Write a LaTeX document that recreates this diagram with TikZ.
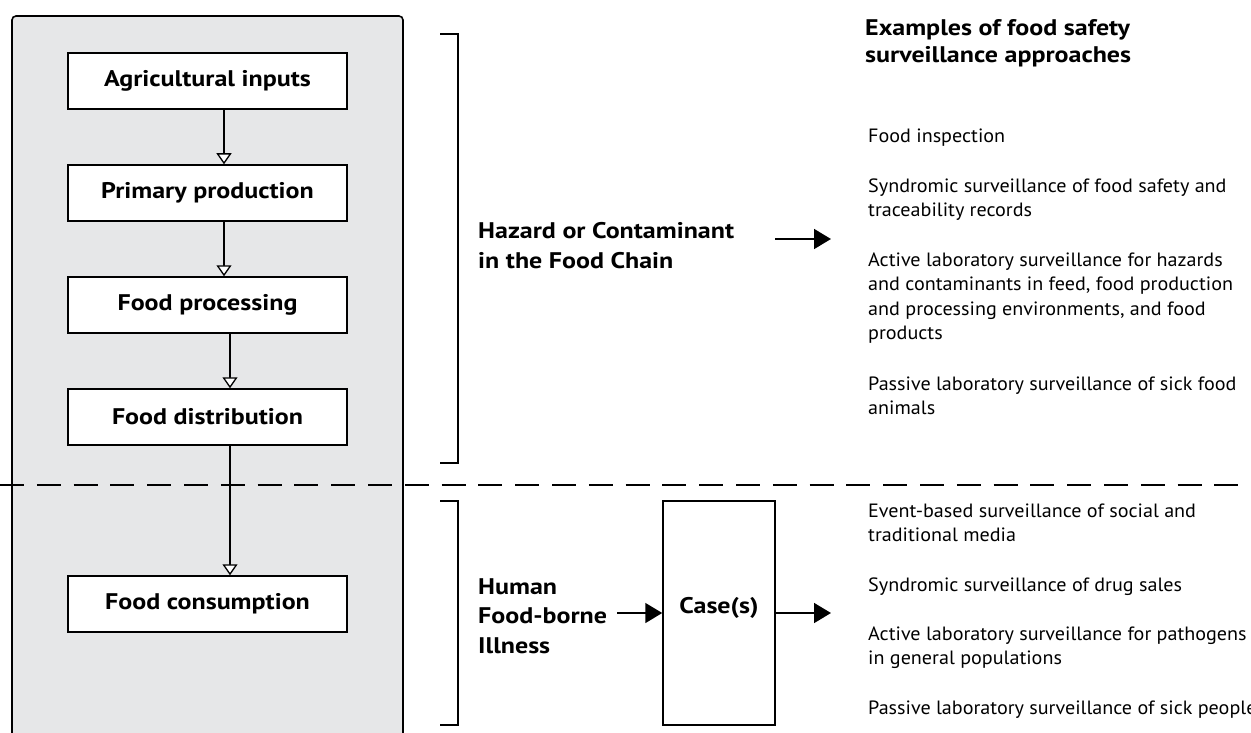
\documentclass[tikz,border=0pt]{standalone}
\usepackage{fontspec}
\setmainfont{PT Sans}[FakeStretch=1.045]
\newfontfamily\heavyface{PT Sans Bold}[FakeStretch=1.15]
\usetikzlibrary{arrows.meta}
\definecolor{panelgray}{HTML}{E6E7E8}
\begin{document}
\begin{tikzpicture}[x=1pt,y=-1pt,
  stagebox/.style={draw, fill=white, line width=1.5pt, minimum width=279pt,
    minimum height=56pt, inner sep=0pt, font=\heavyface\fontsize{22.6}{27}\selectfont},
  flow/.style={line width=1.4pt, -{Triangle[width=15pt, length=11pt, fill=white, line width=1.3pt]}},
  solidarrow/.style={line width=1.6pt, -{Triangle[width=20pt, length=17pt]}},
  bracket/.style={line width=1.5pt},
  separator/.style={line width=2pt, dash pattern=on 24pt off 12.8pt},
  % multi-line texts are anchored at the baseline of their last line
  heading/.style={anchor=base west, align=left, inner sep=0pt,
    font=\heavyface\fontsize{22.6}{27}\selectfont},
  midlabel/.style={anchor=base west, align=left, inner sep=0pt,
    font=\heavyface\fontsize{22.6}{29.5}\selectfont},
  item/.style={anchor=base west, align=left, inner sep=0pt,
    font=\fontsize{19.25}{24.6}\selectfont},
  casebox/.style={draw, line width=1.5pt, minimum width=112pt, minimum height=224pt, inner sep=0pt}
]
\useasboundingbox (0,0) rectangle (1251,733);

% shaded food-chain panel
\draw[line width=1.6pt, fill=panelgray, rounded corners=4pt] (12,16) rectangle (403,780);

% food chain stages
\node[stagebox] (agri) at (207.5,81)  {Agricultural inputs};
\node[stagebox] (prim) at (207.5,193) {Primary production};
\node[stagebox] (proc) at (207.5,305) {Food processing};
\node[stagebox] (dist) at (207.5,417) {Food distribution};
\node[stagebox] (cons) at (207.5,604) {Food consumption};

% boundary between the two surveillance zones
\draw[separator] (0,485) -- (1251,485);

\draw[flow] (agri.south -| 224,0) -- (prim.north -| 224,0);
\draw[flow] (prim.south -| 224,0) -- (proc.north -| 224,0);
\draw[flow] (proc.south -| 230,0) -- (dist.north -| 230,0);
\draw[flow] (dist.south -| 230,0) -- (cons.north -| 230,0);

% brackets
\draw[bracket] (440,34) -- (458,34) -- (458,463) -- (440,463);
\draw[bracket] (440,501) -- (458,501) -- (458,725) -- (440,725);

% hazard in the food chain
\node[midlabel] (hazard) at (478,268) {Hazard or Contaminant\\in the Food Chain};
\coordinate (hzfrom) at (775,239);
\coordinate (hzto) at (831,239);
\draw[solidarrow] (hzfrom) -- (hzto);

% human illness
\node[midlabel] (human) at (478,653) {Human\\Food-borne\\Illness};
\node[casebox] (case) at (719,613) {};
\node[anchor=base, inner sep=0pt, font=\heavyface\fontsize{22.6}{27}\selectfont] (caselbl) at (case.center) {Case(s)};
\coordinate (hmfrom) at (617,613);
\coordinate (csto) at (831,613);
\draw[solidarrow] (hmfrom) -- (case.west);
\draw[solidarrow] (case.east) -- (csto);

% surveillance approaches
\node[heading] (title) at (865,63) {Examples of food safety\\surveillance approaches};
\node[item] (t1) at (868,143) {Food inspection};
\node[item] (t2) at (868,216.6) {Syndromic surveillance of food safety and\\traceability records};
\node[item] (t3) at (868,339.8) {Active laboratory surveillance for hazards\\and contaminants in feed, food production\\and processing environments, and food\\products};
\node[item] (t4) at (868,414.6) {Passive laboratory surveillance of sick food\\animals};
\node[item] (b1) at (868,541.6) {Event-based surveillance of social and\\traditional media};
\node[item] (b2) at (868,591) {Syndromic surveillance of drug sales};
\node[item] (b3) at (868,664.6) {Active laboratory surveillance for pathogens\\in general populations};
\node[item] (b4) at (868,714) {Passive laboratory surveillance of sick people};
\end{tikzpicture}
\end{document}
